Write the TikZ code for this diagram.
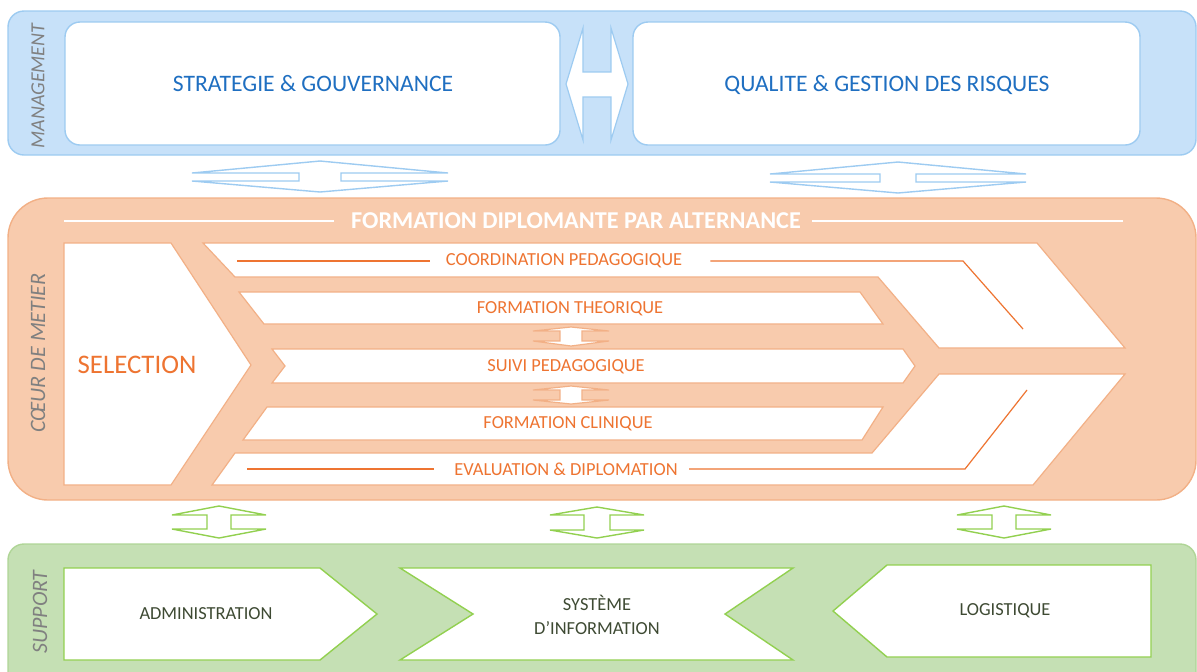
\documentclass[tikz,border=0pt]{standalone}
\usepackage{fontspec}
\setmainfont{Carlito}
\usepackage{tikz}
\usetikzlibrary{calc}
\definecolor{mgmtfill}{HTML}{C7E1F9}
\definecolor{mgmtline}{HTML}{9DCBF1}
\definecolor{mgmttext}{HTML}{1F6FC1}
\definecolor{corefill}{HTML}{F8CBAD}
\definecolor{coreline}{HTML}{F2B086}
\definecolor{coretext}{HTML}{EE7431}
\definecolor{suppfill}{HTML}{C5E0B4}
\definecolor{suppedge}{HTML}{AFD596}
\definecolor{suppline}{HTML}{92D050}
\definecolor{supptext}{HTML}{3E4A33}
\definecolor{sidetext}{HTML}{808080}
\tikzset{
    mgmtbox/.style={fill=white,draw=mgmtline,line width=0.7pt,rounded corners=7.5pt},
    corebox/.style={fill=white,draw=coreline,line width=0.6pt},
    suppbox/.style={fill=white,draw=suppline,line width=0.7pt},
    mgmttxt/.style={text=mgmttext,font=\fontsize{11.8}{14}\selectfont},
    rowtxt/.style={text=coretext,inner sep=0pt,font=\fontsize{9.2}{11}\selectfont},
    supptxt/.style={text=supptext,align=center,font=\fontsize{9.2}{12}\selectfont},
    sidetxt/.style={rotate=90,text=sidetext,font=\fontsize{10}{12}\selectfont\itshape},
    thinline/.style={draw=coretext,line width=0.6pt}
}
\begin{document}
\begin{tikzpicture}[x=0.5pt,y=-0.5pt,line join=miter]
    \useasboundingbox (0,0) rectangle (1197,671);
    \clip (0,0) rectangle (1197,671);
    % management
    \draw[fill=mgmtfill,draw=mgmtline,line width=0.7pt,rounded corners=8pt] (8,11) rectangle (1196,155);
    \draw[mgmtbox] (65,22) rectangle (560,145);
    \draw[mgmtbox] (633,22) rectangle (1140,145);
    \node[mgmttxt] (strat) at (313,84) {STRATEGIE \& GOUVERNANCE};
    \node[mgmttxt] (qual) at (887,85) {QUALITE \& GESTION DES RISQUES};
    \node[sidetxt] (mgmtlbl) at (38,86) {MANAGEMENT};
    \draw[fill=white,draw=mgmtline,line width=0.6pt] (566,84) -- (583,28) -- (583,72) -- (611,72) -- (611,28)
        -- (628,84) -- (611,140) -- (611,97) -- (583,97) -- (583,140) -- cycle;
    % double arrows between the layers
    \foreach \cx/\ty/\ya/\yb/\by/\w/\s/\c in {320/161/173/181/192/128/21/mgmtline,
        898/162/174/182/193/128/18/mgmtline,
        219/506/515/529/538/47/12/suppline, 597/507/515/530/538/47/13/suppline,
        1004/506/515/529/538/47/12/suppline}
        \draw[fill=white,draw=\c,line width=0.7pt] (\cx,\ty) -- (\cx+\w,\ya) -- (\cx+\s,\ya) -- (\cx+\s,\yb)
            -- (\cx+\w,\yb) -- (\cx,\by) -- (\cx-\w,\yb) -- (\cx-\s,\yb) -- (\cx-\s,\ya) -- (\cx-\w,\ya) -- cycle;
    % coeur de metier
    \draw[fill=corefill,draw=coreline,line width=0.7pt,rounded corners=20pt] (8,198) rectangle (1196,500);
    \node[text=white,inner sep=0pt,font=\fontsize{12.1}{14}\selectfont\bfseries] (title) at (576,221)
        {FORMATION DIPLOMANTE PAR ALTERNANCE};
    \coordinate (tl) at (64,221);
    \coordinate (tr) at (1123,221);
    \draw[white,line width=1pt] (tl) -- ([xshift=-8.5pt]title.west);
    \draw[white,line width=1pt] ([xshift=5.5pt]title.east) -- (tr);
    \node[sidetxt,font=\fontsize{11}{12}\selectfont\itshape] (corelbl) at (38,353) {CŒUR DE METIER};
    \draw[corebox] (64,243) -- (171,243) -- (251,365) -- (171,485) -- (64,485) -- cycle;
    \draw[corebox] (203,243) -- (1037,243) -- (1125,348) -- (939,348) -- (878,277) -- (235,277) -- cycle;
    \draw[corebox] (239,292) -- (860,292) -- (883,324) -- (264,324) -- cycle;
    \draw[corebox] (272,349) -- (903,349) -- (915,366) -- (903,383) -- (272,383) -- (285,366) -- cycle;
    \draw[corebox] (267,407) -- (883,407) -- (862,440) -- (243,440) -- cycle;
    \draw[corebox] (235,453) -- (872,453) -- (939,374) -- (1125,374) -- (1033,485) -- (212,485) -- cycle;
    \node[text=coretext,font=\fontsize{13.4}{15}\selectfont] (sel) at (137,365) {SELECTION};
    \node[rowtxt] (coord) at (564,261) {COORDINATION PEDAGOGIQUE};
    \node[rowtxt] (theo) at (570,309) {FORMATION THEORIQUE};
    \node[rowtxt] (suivi) at (566,367) {SUIVI PEDAGOGIQUE};
    \node[rowtxt] (clin) at (568,424) {FORMATION CLINIQUE};
    \node[rowtxt] (eval) at (566,469) {EVALUATION \& DIPLOMATION};
    \coordinate (cl) at (237,261);
    \coordinate (cr) at (963,261);
    \coordinate (ce) at (1023,329);
    \coordinate (el) at (247,469);
    \coordinate (er) at (965,469);
    \coordinate (ee) at (1027,390);
    \draw[thinline] (cl) -- ([xshift=-8pt]coord.west);
    \draw[thinline] ([xshift=14pt]coord.east) -- (cr) -- (ce);
    \draw[thinline] (el) -- ([xshift=-10pt]eval.west);
    \draw[thinline] ([xshift=5.5pt]eval.east) -- (er) -- (ee);
    \foreach \ty/\ya/\yb/\by in {327/331/341/346, 386/390/400/404}
        \draw[fill=white,draw=coreline,line width=0.6pt] (571,\ty) -- (609,\ya) -- (582,\ya) -- (582,\yb)
            -- (609,\yb) -- (571,\by) -- (533,\yb) -- (560,\yb) -- (560,\ya) -- (533,\ya) -- cycle;
    % support
    \draw[fill=suppfill,draw=suppedge,line width=0.7pt,rounded corners=8pt] (8,544) rectangle (1196,700);
    \node[sidetxt,font=\fontsize{11}{12}\selectfont\itshape] (supplbl) at (40,612) {SUPPORT};
    \draw[suppbox] (64,568) -- (320,568) -- (377,614) -- (320,660) -- (64,660) -- cycle;
    \draw[suppbox] (400,568) -- (793,568) -- (725,614) -- (793,660) -- (400,660) -- (473,614) -- cycle;
    \draw[suppbox] (887,565) -- (1151,565) -- (1151,657) -- (887,657) -- (833,611) -- cycle;
    \node[supptxt] (admin) at (206,614) {ADMINISTRATION};
    \node[supptxt] (si) at (597,615) {SYSTÈME\\D’INFORMATION};
    \node[supptxt] (logi) at (1005,611) {LOGISTIQUE};
\end{tikzpicture}
\end{document}
